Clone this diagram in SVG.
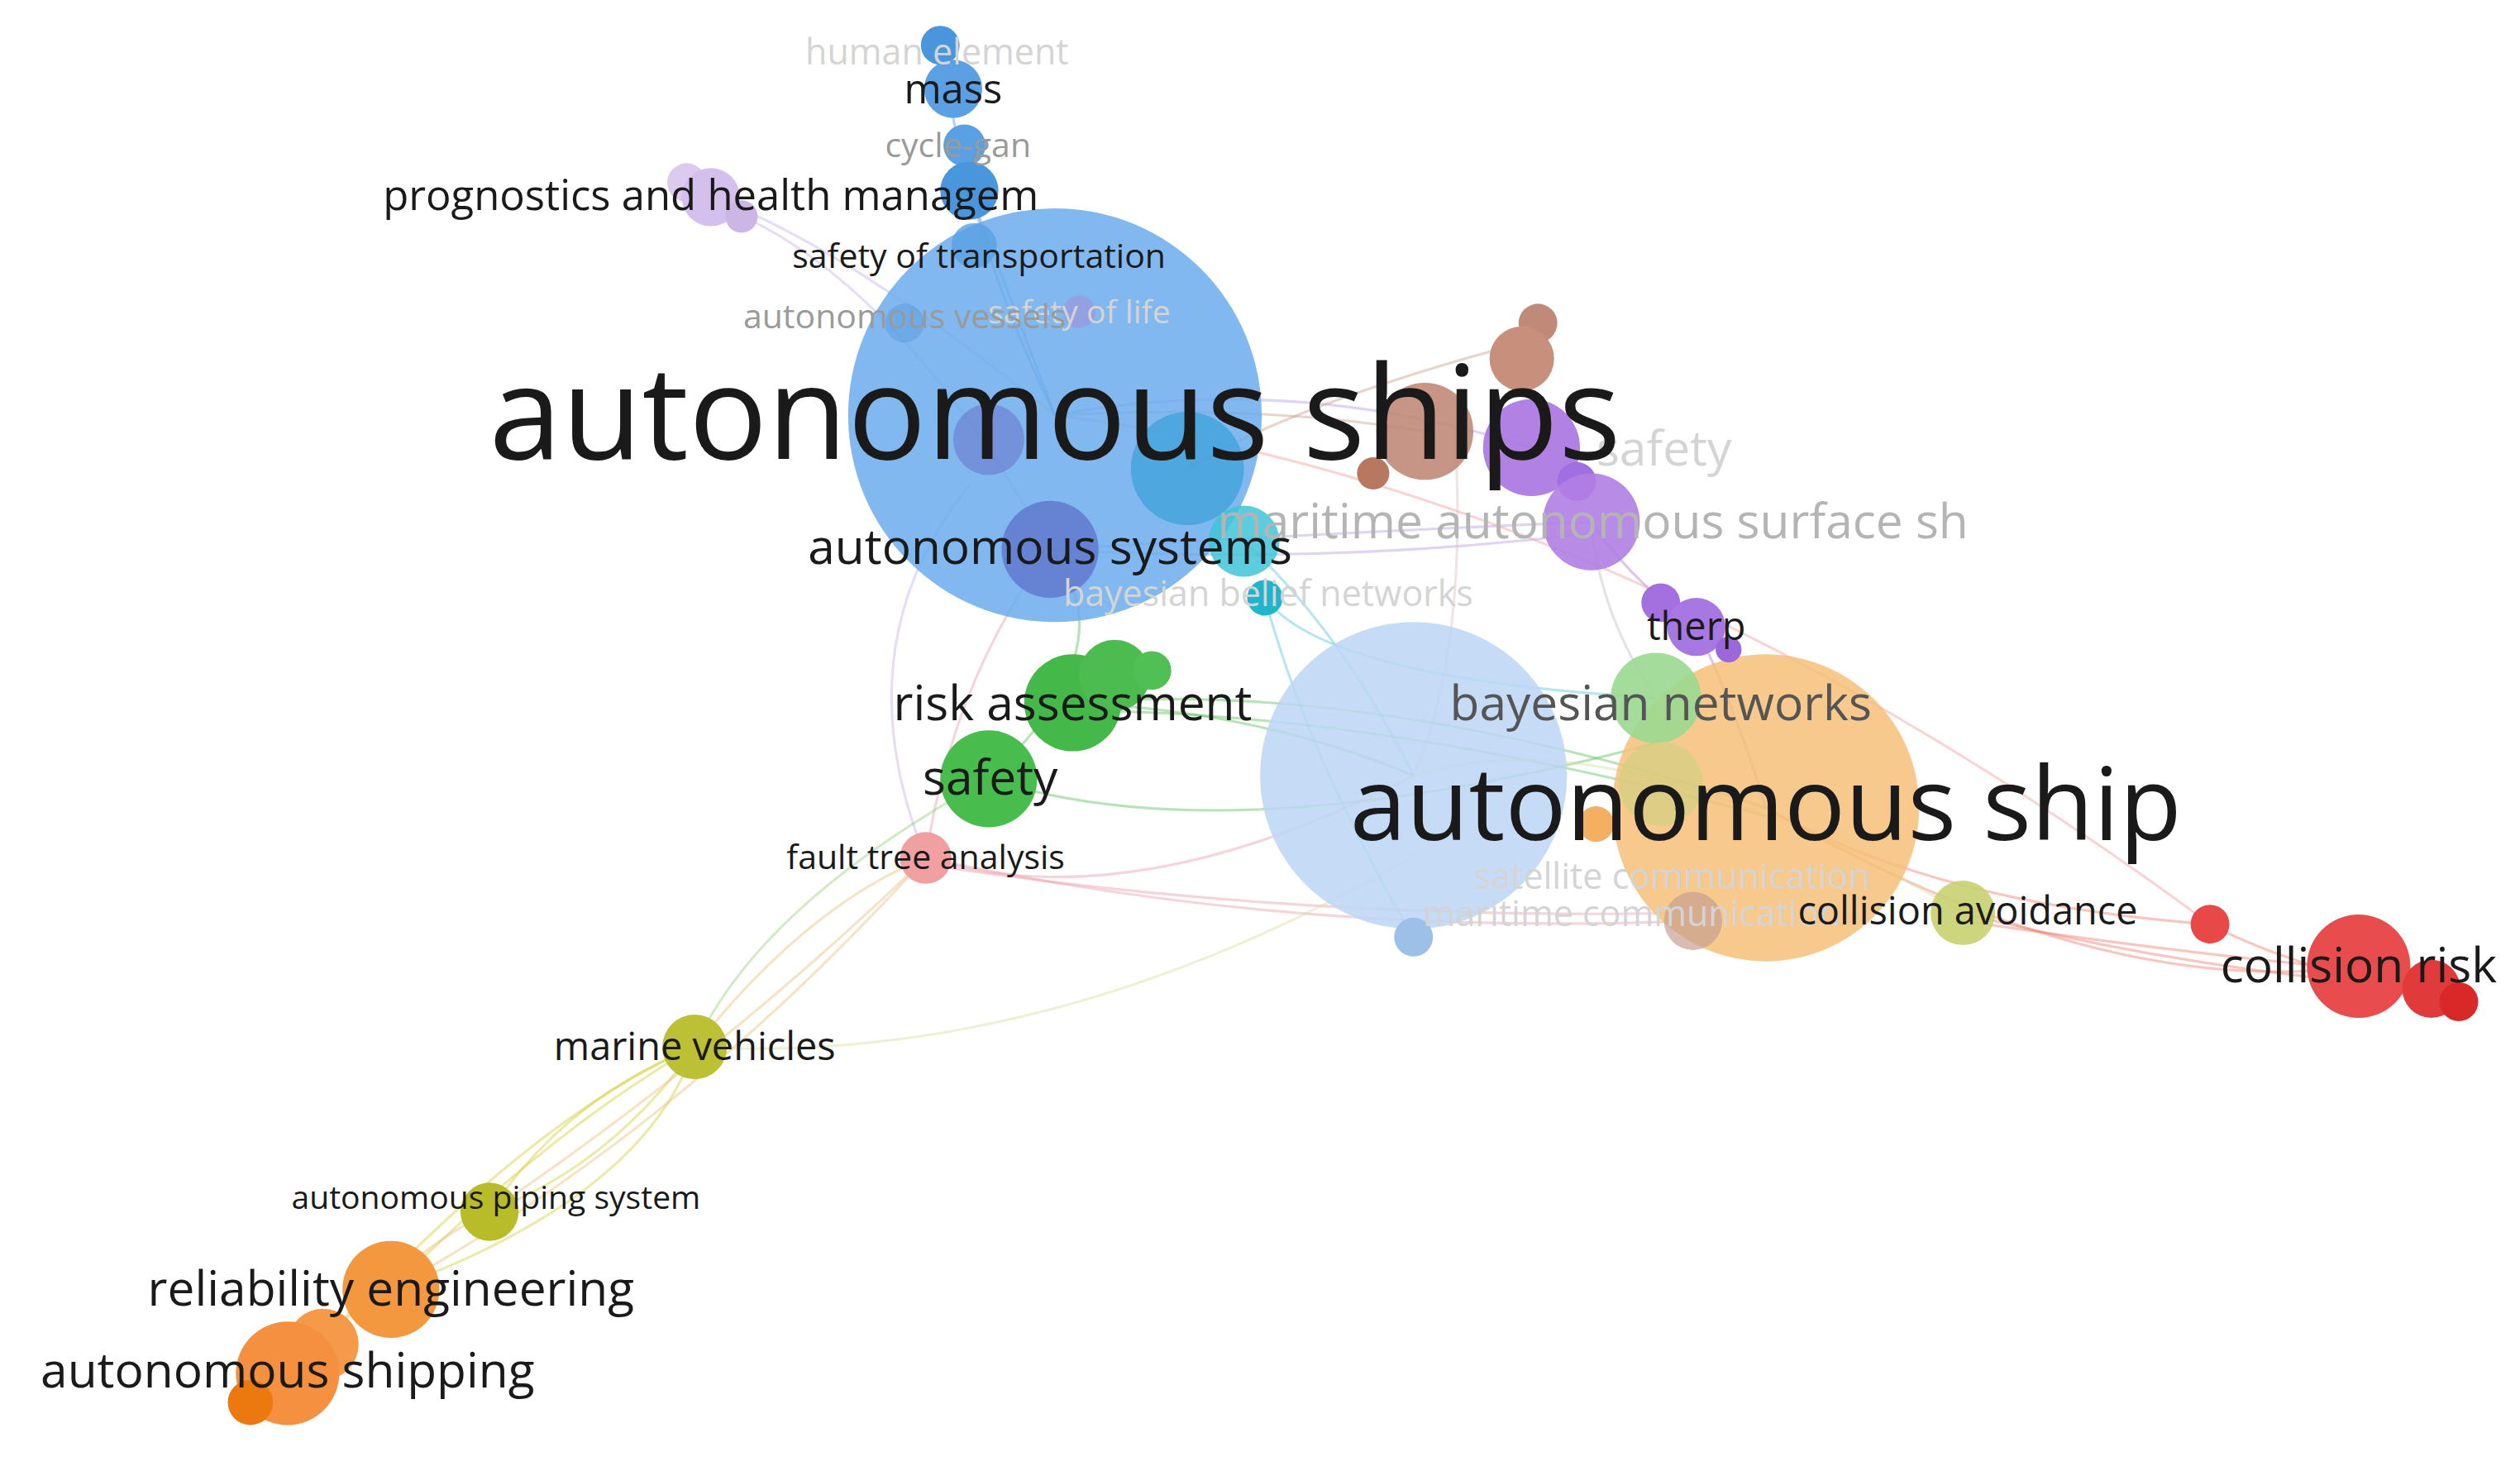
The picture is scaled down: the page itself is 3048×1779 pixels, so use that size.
<svg xmlns="http://www.w3.org/2000/svg" width="3048" height="1779" viewBox="0 0 3048 1779">
<style>
text{font-family:"Open Sans","Noto Sans","Liberation Sans",sans-serif;text-anchor:middle;fill:#1a1a1a}
.f{fill:#d4d4d4}.g{fill:#9a9a9a}.m{fill:#555}
.e path{fill:none;stroke-width:1.6;stroke-opacity:.45}
</style>
<rect width="3048" height="1779" fill="#fff"/>
<g transform="scale(1.954)">
<g id="connectors" class="e">
<path d="M653,257 Q600,150 582,28" stroke="#5a9be0"/>
<path d="M653,257 Q620,170 600,118" stroke="#5a9be0"/>
<path d="M653,257 Q520,150 440,122" stroke="#c8b4e6"/>
<path d="M458,133 Q560,180 650,340" stroke="#c8b4e6"/>
<path d="M653,257 Q800,230 948,277" stroke="#b9a0e6"/>
<path d="M650,340 Q820,330 985,323" stroke="#b9a0e6"/>
<path d="M650,340 Q820,350 985,330" stroke="#b9a0e6"/>
<path d="M653,257 Q780,250 882,267" stroke="#c9a090"/>
<path d="M735,290 Q800,250 950,210" stroke="#c9a090"/>
<path d="M985,323 Q1010,360 1050,388" stroke="#b080e0"/>
<path d="M985,323 Q990,380 1025,432" stroke="#c0c0c0"/>
<path d="M770,335 Q830,390 875,480" stroke="#60c8e0"/>
<path d="M783,370 Q820,420 1025,432" stroke="#60c8e0"/>
<path d="M783,370 Q810,470 875,580" stroke="#60c8e0"/>
<path d="M664,435 Q780,440 875,480" stroke="#60c060"/>
<path d="M612,482 Q760,530 1025,460" stroke="#60c060"/>
<path d="M664,435 Q850,420 1093,500" stroke="#60c060"/>
<path d="M664,440 Q850,440 1093,505" stroke="#60c060"/>
<path d="M612,482 Q700,400 650,340" stroke="#60c060"/>
<path d="M573,531 Q700,570 875,480" stroke="#e8a0b0"/>
<path d="M573,531 Q800,580 1048,570" stroke="#e8a0b0"/>
<path d="M573,535 Q800,570 1048,565" stroke="#e8a0b0"/>
<path d="M573,531 Q590,420 650,340" stroke="#e8a0b0"/>
<path d="M573,531 Q520,400 600,300" stroke="#c8b4e6"/>
<path d="M430,648 Q500,560 573,531" stroke="#e8c080"/>
<path d="M430,648 Q470,560 612,482" stroke="#9ad080"/>
<path d="M430,648 Q650,660 875,530" stroke="#d8e0a0"/>
<path d="M430,648 Q350,680 303,750" stroke="#d0d040"/>
<path d="M430,648 Q380,720 303,750" stroke="#d0d040"/>
<path d="M430,648 Q340,700 242,798" stroke="#d0d040"/>
<path d="M430,648 Q400,740 242,798" stroke="#d0d040"/>
<path d="M430,648 Q330,690 200,832" stroke="#d0d040"/>
<path d="M303,750 Q260,770 178,848" stroke="#e8c080"/>
<path d="M573,531 Q420,700 242,798" stroke="#e8c080"/>
<path d="M573,531 Q450,650 303,750" stroke="#e8c080"/>
<path d="M1093,500 Q1200,560 1368,572" stroke="#f08070"/>
<path d="M1093,500 Q1300,620 1460,598" stroke="#f08070"/>
<path d="M1215,565 Q1350,600 1505,612" stroke="#f08070"/>
<path d="M1215,570 Q1350,590 1460,600" stroke="#f08070"/>
<path d="M1368,572 Q1420,600 1522,620" stroke="#f08070"/>
<path d="M653,257 Q1000,300 1368,572" stroke="#f0a0a0"/>
<path d="M875,480 Q1000,440 1215,565" stroke="#d8e0a0"/>
<path d="M900,260 Q910,400 875,480" stroke="#e0c0c0"/>
<path d="M1050,388 Q1075,440 1093,500" stroke="#b080e0"/>
</g>
<g id="n-ships"><circle cx="653" cy="257" r="128" fill="#6aacec" fill-opacity=".85"/></g>
<g id="n-ship-blue"><circle cx="875" cy="480" r="95" fill="#bcd6f4" fill-opacity=".85"/></g>
<g id="n-ship"><circle cx="1093" cy="500" r="95" fill="#f6c078" fill-opacity=".85"/></g>
<g id="n-mass">
<circle cx="582" cy="28" r="12" fill="#4a96dc"/><circle cx="590" cy="55" r="18" fill="#5aa0e2"/>
<circle cx="597" cy="90" r="13" fill="#5aa0e2"/><circle cx="600" cy="118" r="18" fill="#4a96dc"/>
<circle cx="603" cy="152" r="14" fill="#5aa0e2" fill-opacity=".8"/>
</g>
<g id="n-phm"><circle cx="425" cy="113" r="12" fill="#dccbee"/><circle cx="440" cy="122" r="18" fill="#d4c0ec"/><circle cx="459" cy="134" r="10" fill="#ccb6e6"/></g>
<g id="n-vessels"><circle cx="612" cy="272" r="22" fill="#6b78cc" fill-opacity=".6"/><circle cx="668" cy="193" r="10" fill="#a090d8" fill-opacity=".6"/><circle cx="560" cy="200" r="12" fill="#5a9be0" fill-opacity=".5"/></g>
<g id="n-systems"><circle cx="650" cy="340" r="30" fill="#5b6cc8" fill-opacity=".7"/></g>
<g id="n-cyan"><circle cx="735" cy="290" r="35" fill="#3aa0d8" fill-opacity=".7"/><circle cx="770" cy="335" r="22" fill="#40c4d8" fill-opacity=".85"/><circle cx="783" cy="370" r="11" fill="#22b4cc"/></g>
<g id="n-brown"><circle cx="952" cy="200" r="12" fill="#c08a78"/><circle cx="942" cy="222" r="20" fill="#c8907c"/><circle cx="882" cy="267" r="30" fill="#c08a78" fill-opacity=".9"/><circle cx="850" cy="293" r="10" fill="#b87860"/></g>
<g id="n-purple"><circle cx="948" cy="277" r="30" fill="#a874e0" fill-opacity=".9"/><circle cx="976" cy="298" r="12" fill="#a070e0"/><circle cx="985" cy="323" r="30" fill="#b07ee4" fill-opacity=".9"/><circle cx="1028" cy="373" r="12" fill="#a470e0"/><circle cx="1050" cy="388" r="18" fill="#a878e2"/><circle cx="1070" cy="402" r="8" fill="#9a68d8"/></g>
<g id="n-bn"><circle cx="1025" cy="432" r="28" fill="#9ad890" fill-opacity=".9"/><circle cx="1028" cy="485" r="26" fill="#cbd080" fill-opacity=".6"/></g>
<g id="n-green"><circle cx="664" cy="435" r="30" fill="#44b848"/><circle cx="690" cy="418" r="22" fill="#4cbc50"/><circle cx="713" cy="415" r="12" fill="#50c054"/><circle cx="612" cy="482" r="30" fill="#48bc4c"/></g>
<g id="n-fta"><circle cx="573" cy="531" r="16" fill="#f0a0a0"/></g>
<g id="n-misc"><circle cx="988" cy="510" r="11" fill="#f4b060"/><circle cx="1048" cy="570" r="18" fill="#c8a090" fill-opacity=".7"/><circle cx="875" cy="580" r="12" fill="#9cc0e8"/></g>
<g id="n-ca"><circle cx="1215" cy="565" r="20" fill="#c8d070" fill-opacity=".9"/></g>
<g id="n-risk"><circle cx="1368" cy="572" r="12" fill="#e84848"/><circle cx="1460" cy="598" r="32" fill="#e84c4c"/><circle cx="1505" cy="612" r="18" fill="#e03a3a"/><circle cx="1522" cy="620" r="12" fill="#d82828"/></g>
<g id="n-marine"><circle cx="430" cy="648" r="20" fill="#bcc034"/></g>
<g id="n-piping"><circle cx="303" cy="750" r="18" fill="#b8bc28"/></g>
<g id="n-rel"><circle cx="242" cy="798" r="30" fill="#f49840"/></g>
<g id="n-shipping"><circle cx="200" cy="832" r="22" fill="#f49a48"/><circle cx="178" cy="850" r="32" fill="#f49040"/><circle cx="155" cy="868" r="14" fill="#ec7810"/></g>
<g id="labels">
<text x="580" y="40" font-size="22" class="f">human element</text>
<text x="668" y="200" font-size="20" class="f">safety of life</text>
<text x="1030" y="288" font-size="30" class="f">safety</text>
<text x="986" y="333" font-size="30" style="fill:#b4b4b4">maritime autonomous surface sh</text>
<text x="785" y="375" font-size="22" class="f">bayesian belief networks</text>
<text x="1035" y="550" font-size="22" class="f">satellite communication</text>
<text x="1010" y="573" font-size="22" class="f">maritime communication</text>
<text x="590" y="64" font-size="25">mass</text>
<text x="593" y="97" font-size="21" class="g">cycle-gan</text>
<text x="440" y="130" font-size="26">prognostics and health managem</text>
<text x="606" y="166" font-size="21">safety of transportation</text>
<text x="560" y="203" font-size="21" class="g">autonomous vessels</text>
<text x="653" y="284" font-size="81">autonomous ships</text>
<text x="650" y="349" font-size="30">autonomous systems</text>
<text x="1050" y="396" font-size="24">therp</text>
<text x="664" y="446" font-size="30">risk assessment</text>
<text x="1028" y="446" font-size="30" class="m">bayesian networks</text>
<text x="613" y="492" font-size="30">safety</text>
<text x="1093" y="520" font-size="63">autonomous ship</text>
<text x="573" y="538" font-size="21">fault tree analysis</text>
<text x="1218" y="572" font-size="24">collision avoidance</text>
<text x="1460" y="608" font-size="30">collision risk</text>
<text x="430" y="656" font-size="24">marine vehicles</text>
<text x="307" y="748" font-size="20">autonomous piping system</text>
<text x="242" y="808" font-size="30">reliability engineering</text>
<text x="178" y="859" font-size="30">autonomous shipping</text>
</g>
</g>
</svg>
